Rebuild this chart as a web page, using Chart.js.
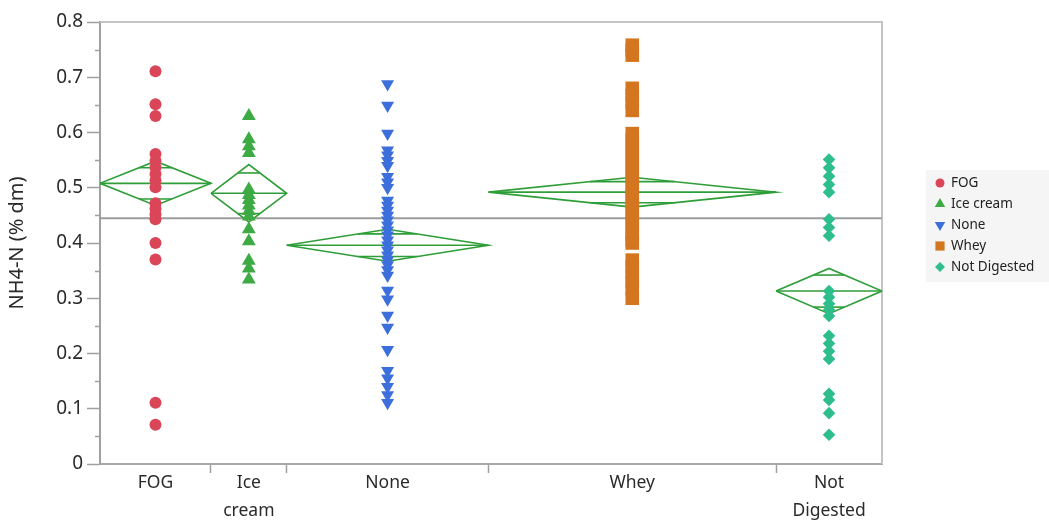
<!DOCTYPE html>
<html><head><meta charset="utf-8">
<script src="https://cdn.jsdelivr.net/npm/chart.js@4.4.1/dist/chart.umd.min.js"></script>
<style>html,body{margin:0;padding:0;background:#fff}#wrap{width:1049px;height:521px}</style>
</head><body><div id="wrap"><canvas id="c" width="1049" height="521"></canvas></div>
<script>
// ---- data ----
const groups = ['FOG', 'Ice cream', 'None', 'Whey', 'Not Digested'];
const xLabels = [['FOG'], ['Ice', 'cream'], ['None'], ['Whey'], ['Not', 'Digested']];
const groupCounts = [22, 15, 40, 57, 21];
const fogValues = [0.711, 0.651, 0.630, 0.561, 0.549, 0.537, 0.525, 0.513, 0.501, 0.472, 0.462, 0.452, 0.443, 0.400, 0.370, 0.111, 0.071];
const iceCreamValues = [0.630, 0.588, 0.575, 0.563, 0.497, 0.487, 0.478, 0.468, 0.458, 0.448, 0.425, 0.403, 0.368, 0.354, 0.334];
const noneValues = [0.688, 0.649, 0.598, 0.568, 0.559, 0.549, 0.540, 0.520, 0.510, 0.500, 0.477, 0.468, 0.459, 0.450, 0.441, 0.432, 0.423, 0.414, 0.405, 0.396, 0.387, 0.378, 0.369, 0.360, 0.351, 0.341, 0.314, 0.298, 0.269, 0.247, 0.207, 0.169, 0.155, 0.140, 0.125, 0.111];
const wheyValues = [0.758, 0.749, 0.740, 0.680, 0.667, 0.654, 0.640, 0.598, 0.586, 0.574, 0.562, 0.550, 0.538, 0.526, 0.514, 0.502, 0.490, 0.478, 0.466, 0.454, 0.442, 0.430, 0.418, 0.406, 0.400, 0.369, 0.356, 0.343, 0.330, 0.317, 0.300];
const notDigestedValues = [0.551, 0.536, 0.521, 0.506, 0.492, 0.443, 0.428, 0.413, 0.313, 0.302, 0.290, 0.279, 0.268, 0.232, 0.218, 0.204, 0.190, 0.127, 0.116, 0.092, 0.053];
const groupMeans = [0.508, 0.490, 0.396, 0.492, 0.313];
const groupCIHalf = [0.040, 0.052, 0.029, 0.027, 0.041];
const grandMean = 0.445;
const yMin = 0, yMax = 0.8, yStep = 0.1, yMinorStep = 0.05;

// ---- styles ----
const groupColors = ['#DA4558', '#3EAA44', '#3C6FDC', '#D4761F', '#2DBE8C'];
const groupStyles = ['circle', 'triangle', 'triangle', 'rect', 'rectRot'];
const groupRotation = [0, 0, 180, 0, 0];
const groupRadius = [6, 8, 7.5, 9.6, 6.3];
const diamondColor = '#2E9E38';
const FONT = 'Noto Sans';

const allValues = [fogValues, iceCreamValues, noneValues, wheyValues, notDigestedValues];

// boundaries & centers from group counts
const bounds = [0];
groupCounts.forEach(n => bounds.push(bounds[bounds.length - 1] + n));
const total = bounds[bounds.length - 1];
const centers = groupCounts.map((n, i) => bounds[i] + n / 2);
const innerBounds = bounds.slice(1, -1);

const datasets = [];
// grand mean
datasets.push({type: 'line', data: [{x: 0, y: grandMean}, {x: total, y: grandMean}], borderColor: '#9c9c9c', borderWidth: 2, pointRadius: 0, order: 5});
// means diamonds
groups.forEach((g, i) => {
  const x0 = bounds[i], x1 = bounds[i + 1], xc = centers[i], m = groupMeans[i], h = groupCIHalf[i];
  const line = {type: 'line', borderColor: diamondColor, borderWidth: 1.6, pointRadius: 0, fill: false, tension: 0, order: 4};
  datasets.push(Object.assign({}, line, {data: [{x: x0, y: m}, {x: xc, y: m + h}, {x: x1, y: m}, {x: xc, y: m - h}, {x: x0, y: m}]}));
  datasets.push(Object.assign({}, line, {data: [{x: x0, y: m}, {x: x1, y: m}]}));
  const off = h / Math.SQRT2, hw = (1 - 1 / Math.SQRT2) * (x1 - x0) / 2;
  datasets.push(Object.assign({}, line, {data: [{x: xc - hw, y: m + off}, {x: xc + hw, y: m + off}]}));
  datasets.push(Object.assign({}, line, {data: [{x: xc - hw, y: m - off}, {x: xc + hw, y: m - off}]}));
});
// points
groups.forEach((g, i) => {
  datasets.push({
    type: 'scatter', label: g, isGroup: true, groupIndex: i,
    data: allValues[i].map(v => ({x: centers[i], y: v})),
    pointStyle: groupStyles[i], pointRotation: groupRotation[i],
    pointRadius: groupRadius[i], pointHoverRadius: groupRadius[i],
    backgroundColor: groupColors[i], borderColor: groupColors[i], pointBorderWidth: 0,
    order: 1
  });
});

const framePlugin = {
  id: 'frame',
  beforeDatasetsDraw(chart) {
    const {ctx, chartArea: a, scales} = chart;
    ctx.save();
    ctx.strokeStyle = '#c4c4c4'; ctx.lineWidth = 2;
    ctx.beginPath(); ctx.moveTo(a.left, a.top); ctx.lineTo(a.right, a.top); ctx.lineTo(a.right, a.bottom); ctx.stroke();
    // minor y ticks
    ctx.strokeStyle = '#a0a0a0'; ctx.lineWidth = 1.5;
    for (let v = yMin + yMinorStep; v < yMax; v += yStep) {
      const y = Math.round(scales.y.getPixelForValue(v)) + 0.5;
      ctx.beginPath(); ctx.moveTo(a.left - 5, y); ctx.lineTo(a.left, y); ctx.stroke();
    }
    ctx.restore();
  }
};

function drawMarker(ctx, style, rot, x, y, r) {
  ctx.beginPath();
  if (style === 'circle') { ctx.arc(x, y, r, 0, Math.PI * 2); }
  else if (style === 'triangle') {
    const s = rot ? -1 : 1;
    ctx.moveTo(x, y - s * r); ctx.lineTo(x + 0.866 * r, y + s * r / 2); ctx.lineTo(x - 0.866 * r, y + s * r / 2); ctx.closePath();
  } else if (style === 'rect') { const s = r * Math.SQRT1_2; ctx.rect(x - s, y - s, 2 * s, 2 * s); }
  else { ctx.moveTo(x - r, y); ctx.lineTo(x, y - r); ctx.lineTo(x + r, y); ctx.lineTo(x, y + r); ctx.closePath(); }
  ctx.fill();
}

const legendPlugin = {
  id: 'customLegend',
  afterDraw(chart) {
    const ctx = chart.ctx;
    const items = chart.data.datasets.filter(d => d.isGroup);
    ctx.save();
    ctx.fillStyle = '#f5f5f5';
    ctx.fillRect(926, 170, 123, 112);
    ctx.font = '13.5px "' + FONT + '"';
    ctx.textBaseline = 'middle';
    items.forEach((d, k) => {
      const y = 183 + k * 21;
      const i = d.groupIndex;
      ctx.fillStyle = groupColors[i];
      const r = [4.5, 6, 6, 6.5, 5][i];
      drawMarker(ctx, groupStyles[i], groupRotation[i], 940, y, r);
      ctx.fillStyle = '#222';
      ctx.fillText(d.label, 951, y);
    });
    ctx.restore();
  }
};

Chart.defaults.font.family = FONT;
new Chart(document.getElementById('c'), {
  type: 'scatter',
  data: {datasets},
  options: {
    responsive: false, animation: false, devicePixelRatio: 1,
    layout: {padding: {top: 22, right: 167, left: 0, bottom: 0}},
    plugins: {legend: {display: false}, tooltip: {enabled: false}},
    scales: {
      x: {
        type: 'linear', min: 0, max: total, position: 'bottom',
        afterBuildTicks: s => { s.ticks = innerBounds.concat(centers).sort((a, b) => a - b).map(v => ({value: v})); },
        afterFit: s => { s.height = 57; },
        ticks: {
          autoSkip: false, maxRotation: 0, color: '#2a2a2a', padding: -4,
          font: {size: 17.5, lineHeight: 1.6},
          callback: v => { const k = centers.indexOf(v); return k >= 0 ? xLabels[k] : ''; }
        },
        grid: {drawOnChartArea: false, drawTicks: true, tickLength: 9, tickWidth: 1.5,
          tickColor: c => innerBounds.includes(c.tick && c.tick.value) ? '#a0a0a0' : 'rgba(0,0,0,0)'},
        border: {color: '#a8a8a8', width: 2}
      },
      y: {
        type: 'linear', min: yMin, max: yMax, position: 'left',
        afterFit: s => { s.width = 100; },
        ticks: {stepSize: yStep, color: '#2a2a2a', padding: 4, font: {size: 19},
          callback: v => (Math.abs(v) < 1e-9 ? '0' : v.toFixed(1))},
        grid: {drawOnChartArea: false, drawTicks: true, tickLength: 13, tickWidth: 1.5, tickColor: '#a0a0a0'},
        border: {color: '#a0a0a0', width: 2},
        title: {display: true, text: 'NH4-N (% dm)', color: '#2a2a2a', font: {size: 20}, padding: {top: 5, bottom: 0}}
      }
    }
  },
  plugins: [framePlugin, legendPlugin]
});
</script>
</body></html>
